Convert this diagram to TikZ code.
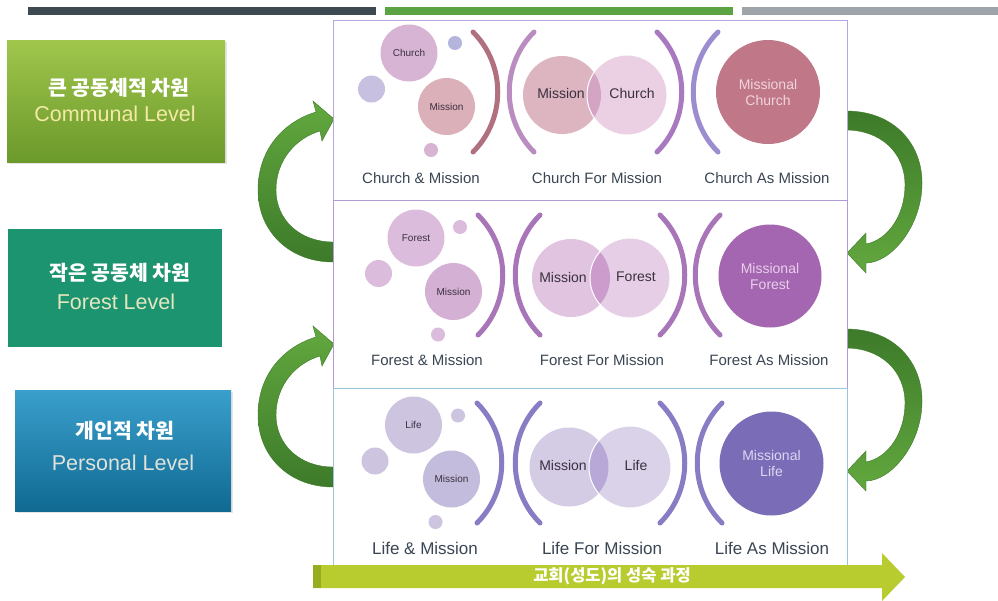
\documentclass[tikz,border=0pt]{standalone}
\usepackage{fontspec}
\setmainfont{Liberation Sans}
\newfontfamily\kfont{Noto Sans CJK KR}
\usetikzlibrary{calc}

\definecolor{bardark}{HTML}{3E4A52}
\definecolor{bargreen}{HTML}{5CA343}
\definecolor{bargray}{HTML}{9EA4AA}
\definecolor{boxAtop}{HTML}{A0C64C}
\definecolor{boxAbot}{HTML}{6B992B}
\definecolor{boxB}{HTML}{1D9470}
\definecolor{boxCtop}{HTML}{3A9FCC}
\definecolor{boxCbot}{HTML}{106A92}
\definecolor{txtA}{HTML}{F3EAA6}
\definecolor{txtB}{HTML}{E4E6C0}
\definecolor{txtC}{HTML}{DFE3DC}
\definecolor{labelc}{HTML}{3A4654}
\definecolor{innerc}{HTML}{3A3040}
\definecolor{arrdark}{HTML}{3D7A2A}
\definecolor{arrlight}{HTML}{62A83E}
\definecolor{barbody}{HTML}{B8CC30}
\definecolor{barend}{HTML}{98AC22}
% row 1 (church)
\definecolor{pA1}{HTML}{B0707E}
\definecolor{pA2}{HTML}{B98DC0}
\definecolor{pA3}{HTML}{A878C0}
\definecolor{pA4}{HTML}{9C8CD0}
\definecolor{cA1}{HTML}{D8B4D4}
\definecolor{cA2}{HTML}{B4B4DC}
\definecolor{cA3}{HTML}{C8C0E0}
\definecolor{cA4}{HTML}{DCB0B8}
\definecolor{oA1}{HTML}{DDB5C0}
\definecolor{oA2}{HTML}{EAD0E2}
\definecolor{oA3}{HTML}{D4A4C4}
\definecolor{bigA}{HTML}{C07888}
\definecolor{bigAt}{HTML}{F0D4DC}
% row 2 (forest)
\definecolor{pB}{HTML}{A876B8}
\definecolor{cB1}{HTML}{DCBCDC}
\definecolor{cB2}{HTML}{D4B0D4}
\definecolor{oB1}{HTML}{E0C4E0}
\definecolor{oB2}{HTML}{E6CEE6}
\definecolor{oB3}{HTML}{CC9CCC}
\definecolor{bigB}{HTML}{A466B0}
\definecolor{bigBt}{HTML}{E8D0EC}
% row 3 (life)
\definecolor{pC}{HTML}{8A7CC4}
\definecolor{cC1}{HTML}{CDC4E0}
\definecolor{cC2}{HTML}{C4BCDC}
\definecolor{oC1}{HTML}{D4CCE4}
\definecolor{oC2}{HTML}{DAD2E8}
\definecolor{oC3}{HTML}{B8A8D8}
\definecolor{bigC}{HTML}{7B6CB8}
\definecolor{bigCt}{HTML}{DCD8F0}
% frames
\definecolor{frA}{HTML}{B7A6DE}
\definecolor{frB}{HTML}{B49AD4}
\definecolor{frC}{HTML}{9CC4DC}

\tikzset{
  lvlbox/.style={rectangle, inner sep=0pt, minimum width=#1},
  kor/.style={font=\kfont\bfseries\fontsize{20.5pt}{24pt}\selectfont, text=white, inner sep=0pt},
  eng/.style={font=\fontsize{21.5pt}{24pt}\selectfont, inner sep=0pt},
  lbl/.style={font=\fontsize{15pt}{18pt}\selectfont, text=labelc, inner sep=0pt},
  lblbig/.style={font=\fontsize{17pt}{20pt}\selectfont, text=labelc, inner sep=0pt},
  tiny/.style={font=\fontsize{10pt}{12pt}\selectfont, text=innerc},
  midtxt/.style={font=\fontsize{14pt}{16pt}\selectfont, text=innerc, inner sep=0pt},
  bub/.style={circle, inner sep=0pt, minimum size=#1},
  bigtxt/.style={font=\fontsize{14pt}{16pt}\selectfont, align=center},
  parenline/.style={line width=5pt, line cap=round},
  bend/.style={top color=#1, bottom color=arrdark, draw=arrdark, line width=0.4pt},
}

% a curved bracket of height 120 starting at (x, ytop); dir=1 bulges right, -1 left
\newcommand\parenarc[4]{%
  \draw[parenline,#1] (#2,#3) .. controls ({#2+33*#4},{#3+33}) and ({#2+33*#4},{#3+87}) .. (#2,{#3+120});}

\begin{document}
\begin{tikzpicture}[x=1pt,y=-1pt]
\useasboundingbox[fill=white] (0,0) rectangle (998,600);

% header bars
\fill[bardark]  (28,7) rectangle (376,15);
\fill[bargreen] (385,7) rectangle (733,15);
\fill[bargray]  (742,7) rectangle (998,15);

% level boxes
\fill[black!10] (9,42) rectangle (227,164);
\node[lvlbox=218pt, minimum height=122pt, top color=boxAtop, bottom color=boxAbot] (lvlA) at (116,101) {};
\node[kor] (lvlAk) at (119,88) {큰 공동체적 차원};
\node[eng, text=txtA] (lvlAe) at (115,114) {Communal Level};

\node[lvlbox=214pt, minimum height=118pt, fill=boxB] (lvlB) at (115,288) {};
\node[kor] (lvlBk) at (120,273) {작은 공동체 차원};
\node[eng, text=txtB] (lvlBe) at (116,302) {Forest Level};

\fill[black!10] (17,392) rectangle (233,513);
\node[lvlbox=216pt, minimum height=121pt, top color=boxCtop, bottom color=boxCbot] (lvlC) at (123,450.5) {};
\node[kor] (lvlCk) at (125,431) {개인적 차원};
\node[eng, text=txtC] (lvlCe) at (123,463) {Personal Level};

% curved arrows on the left (rising from one level to the next)
\foreach \dy in {0,225}{
\begin{scope}[yshift={-\dy pt}]
\path[bend=arrlight] (333,262) .. controls (290,262) and (258,232) .. (258,190)
  .. controls (258,150) and (283,122) .. (316,112) -- (313,101) -- (334,119)
  -- (322,141) -- (320,131) .. controls (296,138) and (276,160) .. (276,190)
  .. controls (276,220) and (300,242) .. (333,242) -- cycle;
\end{scope}}

% curved arrows on the right (descending)
\foreach \dy in {0,218}{
\begin{scope}[yshift={-\dy pt}]
\path[top color=arrdark, bottom color=arrlight, draw=arrdark, line width=0.4pt]
  (846,111) .. controls (895,111) and (923,145) .. (922,185)
  .. controls (921,228) and (890,263) .. (866,263) -- (866,273) -- (847,253)
  -- (866,233) -- (866,244) .. controls (888,240) and (905,215) .. (905,185)
  .. controls (905,152) and (880,130) .. (846,130) -- cycle;
\end{scope}}

% panel rows
\draw[frA, fill=white, line width=0.8pt] (333,20) rectangle (847,200);
\draw[frB, fill=white, line width=0.8pt] (333,200) rectangle (847,388);
\draw[frC, fill=white, line width=0.8pt] (333,388) rectangle (847,566);

% ---------- row 1: church ----------
\node[bub=57pt, fill=cA1, tiny] (aChurch) at (409,53) {Church};
\node[bub=14pt, fill=cA2] (aDot1) at (455,43) {};
\node[bub=27pt, fill=cA3] (aDot2) at (371.5,89) {};
\node[bub=57pt, fill=cA4, tiny] (aMission) at (446.5,106.5) {Mission};
\node[bub=14pt, fill=cA1] (aDot3) at (431,150) {};
\parenarc{pA1}{473}{32}{1}
\parenarc{pA2}{534}{32}{-1}
\node[bub=78pt, fill=oA1] (aL) at (562,95) {};
\node[bub=80pt, fill=oA2] (aR) at (627,95) {};
\begin{scope}
  \clip (aL.center) circle[radius=39];
  \fill[oA3] (aR.center) circle[radius=40];
\end{scope}
\draw[white, line width=1pt] (aR.center) circle[radius=40];
\node[midtxt] (aLt) at (561,93) {Mission};
\node[midtxt] (aRt) at (632,93) {Church};
\parenarc{pA3}{657}{32}{1}
\parenarc{pA4}{718}{32}{-1}
\node[bub=104pt, fill=bigA, text=bigAt, bigtxt] (aBig) at (768,92) {Missional\\Church};
\node[lbl] (aT1) at (421,178) {Church \& Mission};
\node[lbl] (aT2) at (597,178) {Church For Mission};
\node[lbl] (aT3) at (767,178) {Church As Mission};

% ---------- row 2: forest ----------
\node[bub=57pt, fill=cB1, tiny] (bForest) at (416,238) {Forest};
\node[bub=14pt, fill=cB1] (bDot1) at (460,227) {};
\node[bub=27pt, fill=cB1] (bDot2) at (378.5,273.5) {};
\node[bub=57pt, fill=cB2, tiny] (bMission) at (453.5,291.5) {Mission};
\node[bub=14pt, fill=cB1] (bDot3) at (438,334.5) {};
\parenarc{pB}{478}{215}{1}
\parenarc{pB}{540}{215}{-1}
\node[bub=78pt, fill=oB1] (bL) at (571,278) {};
\node[bub=80pt, fill=oB2] (bR) at (630,278) {};
\begin{scope}
  \clip (bL.center) circle[radius=39];
  \fill[oB3] (bR.center) circle[radius=40];
\end{scope}
\draw[white, line width=1pt] (bR.center) circle[radius=40];
\node[midtxt] (bLt) at (563,277) {Mission};
\node[midtxt] (bRt) at (636,277) {Forest};
\parenarc{pB}{660}{215}{1}
\parenarc{pB}{720}{215}{-1}
\node[bub=103pt, fill=bigB, text=bigBt, bigtxt] (bBig) at (770,276) {Missional\\Forest};
\node[lbl] (bT1) at (427,360) {Forest \& Mission};
\node[lbl] (bT2) at (602,360) {Forest For Mission};
\node[lbl] (bT3) at (769,360) {Forest As Mission};

% ---------- row 3: life ----------
\node[bub=57pt, fill=cC1, tiny] (cLife) at (413.5,425) {Life};
\node[bub=14pt, fill=cC1] (cDot1) at (458,415.5) {};
\node[bub=27pt, fill=cC1] (cDot2) at (375,461) {};
\node[bub=57pt, fill=cC2, tiny] (cMission) at (451.5,479) {Mission};
\node[bub=14pt, fill=cC1] (cDot3) at (435.5,522) {};
\parenarc{pC}{477}{403}{1}
\parenarc{pC}{540}{403}{-1}
\node[bub=79pt, fill=oC1] (cL) at (569,467) {};
\node[bub=82pt, fill=oC2] (cR) at (630,467) {};
\begin{scope}
  \clip (cL.center) circle[radius=39.5];
  \fill[oC3] (cR.center) circle[radius=41];
\end{scope}
\draw[white, line width=1pt] (cR.center) circle[radius=41];
\node[midtxt] (cLt) at (563,465) {Mission};
\node[midtxt] (cRt) at (636,465) {Life};
\parenarc{pC}{660}{403}{1}
\parenarc{pC}{722}{403}{-1}
\node[bub=104pt, fill=bigC, text=bigCt, bigtxt] (cBig) at (771.5,463.5) {Missional\\Life};
\node[lblbig] (cT1) at (425,548) {Life \& Mission};
\node[lblbig] (cT2) at (602,548) {Life For Mission};
\node[lblbig] (cT3) at (772,548) {Life As Mission};

% growth arrow along the bottom
\fill[barbody] (313,565) -- (882,565) -- (882,553) -- (905,577) -- (882,601)
  -- (882,588) -- (313,588) -- cycle;
\fill[barend] (313,565) rectangle (321,588);
\node[font=\kfont\bfseries\fontsize{16.5pt}{19pt}\selectfont, text=white, inner sep=0pt] (growth) at (612,576) {교회(성도)의 성숙 과정};
\end{tikzpicture}
\end{document}
